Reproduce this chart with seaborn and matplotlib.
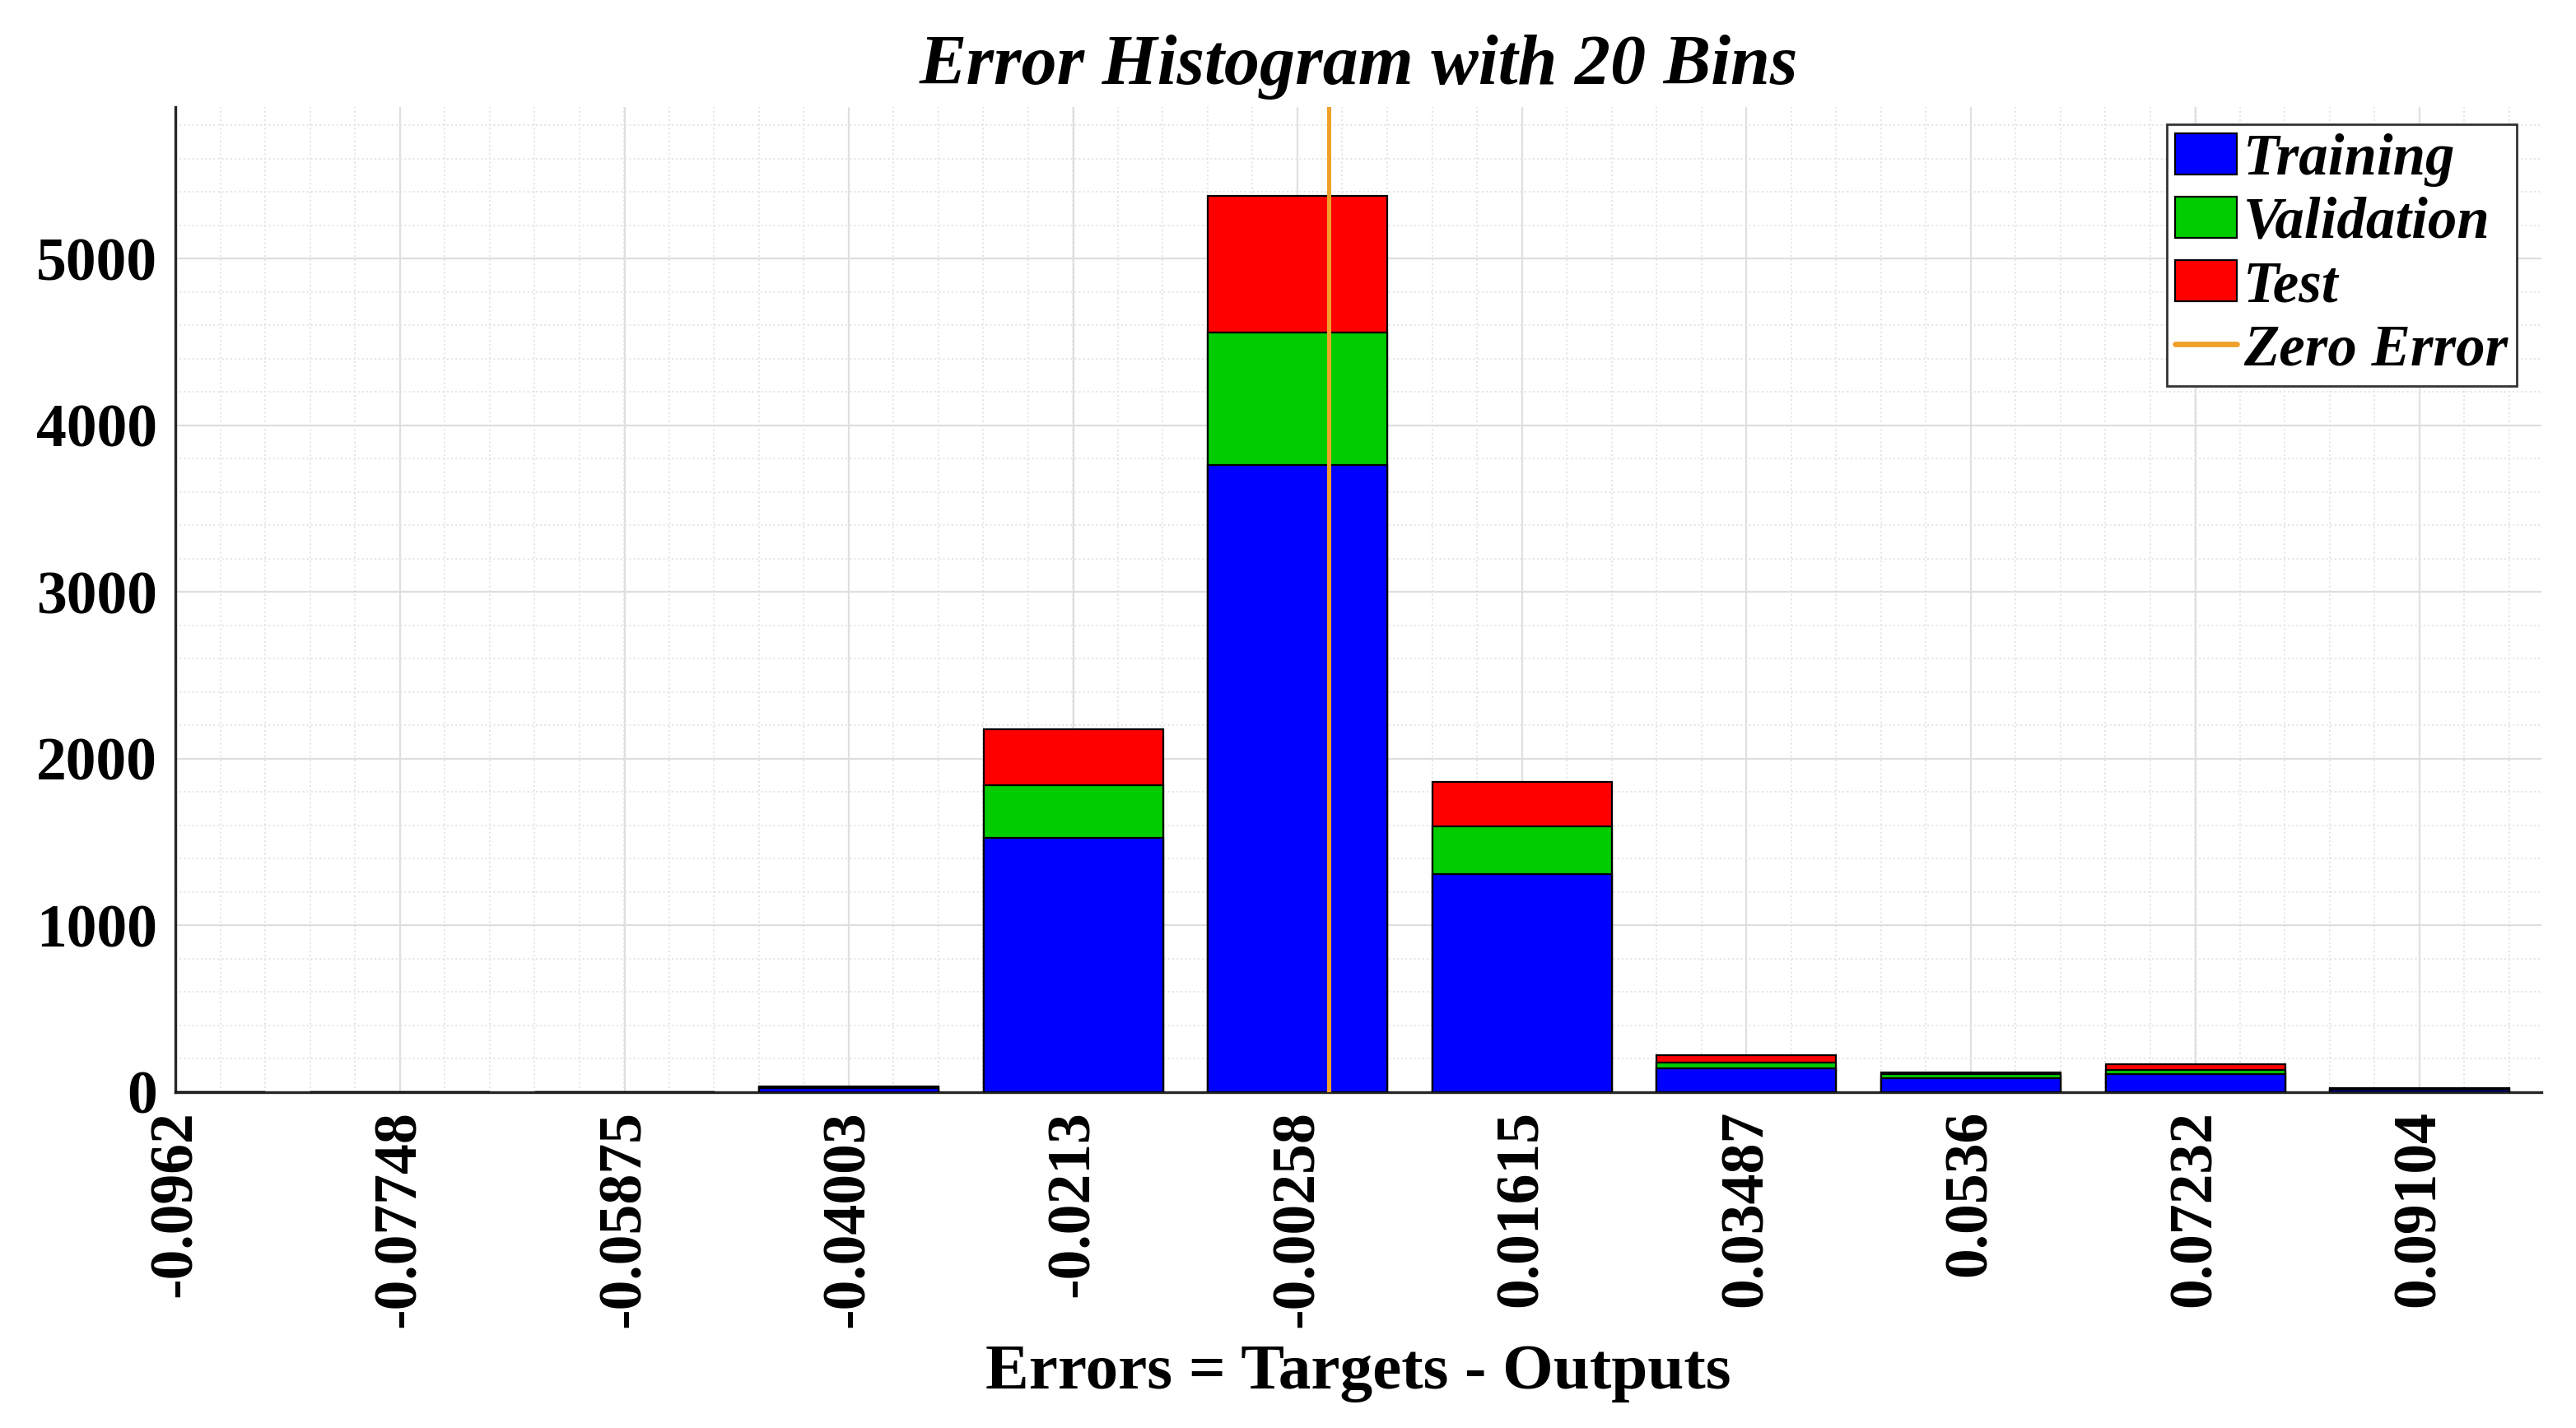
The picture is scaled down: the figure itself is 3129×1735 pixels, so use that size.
import numpy as np
import pandas as pd
import matplotlib
matplotlib.use("Agg")
import matplotlib.pyplot as plt
from matplotlib.ticker import MultipleLocator, AutoMinorLocator
import seaborn as sns

# bin centres and counts
centers = [-0.0962, -0.07748, -0.05875, -0.04003, -0.0213, -0.00258,
           0.01615, 0.03487, 0.0536, 0.07232, 0.09104]
tick_labels = ["-0.0962", "-0.07748", "-0.05875", "-0.04003", "-0.0213", "-0.00258",
               "0.01615", "0.03487", "0.0536", "0.07232", "0.09104"]
training = [0, 1, 2, 25, 1525, 3760, 1309, 143, 85, 106, 16]
validation = [0, 0, 0, 4, 315, 797, 285, 36, 21, 27, 4]
test = [0, 0, 0, 4, 335, 817, 266, 41, 12, 33, 4]

df = pd.DataFrame({"err": centers, "train": training, "val": validation, "test": test})
df["cum_val"] = df["train"] + df["val"]
df["cum_test"] = df["cum_val"] + df["test"]

sns.set_style("white")
plt.rcParams["font.family"] = ["Liberation Serif", "DejaVu Serif"]
plt.rcParams["font.weight"] = "bold"
plt.rcParams["text.color"] = "black"
plt.rcParams["axes.labelcolor"] = "black"
plt.rcParams["xtick.labelcolor"] = "black"
plt.rcParams["ytick.labelcolor"] = "black"

fig = plt.figure(figsize=(15.645, 8.675), dpi=200)
ax = fig.add_axes([0.0682, 0.2352, 0.9184, 0.690])

# stacked bars: draw totals first, then smaller cumulative sums on top
sns.barplot(data=df, x="err", y="cum_test", native_scale=True, color="#ff0000",
            edgecolor="black", linewidth=0.8, errorbar=None, saturation=1,
            label="Test", ax=ax, zorder=3)
sns.barplot(data=df, x="err", y="cum_val", native_scale=True, color="#00cc00",
            edgecolor="black", linewidth=0.8, errorbar=None, saturation=1,
            label="Validation", ax=ax, zorder=3)
sns.barplot(data=df, x="err", y="train", native_scale=True, color="#0000ff",
            edgecolor="black", linewidth=0.8, errorbar=None, saturation=1,
            label="Training", ax=ax, zorder=3)
ax.axvline(0, color="#f0a028", lw=1.8, label="Zero Error", zorder=4)

ax.set_xlim(-0.0962, 0.1012)
ax.set_ylim(0, 5910)
ax.set_xticks(centers)
ax.set_xticklabels(tick_labels, rotation=90, fontsize=26.5, fontweight="bold")
ax.yaxis.set_major_locator(MultipleLocator(1000))
ax.yaxis.set_minor_locator(MultipleLocator(200))
ax.xaxis.set_minor_locator(AutoMinorLocator(5))
for lab in ax.get_yticklabels():
    lab.set_fontsize(26.5)
    lab.set_fontweight("bold")

ax.tick_params(axis="both", which="major", direction="in", length=10, width=1,
               color="#262626", pad=8)
ax.tick_params(axis="both", which="minor", length=0)
ax.tick_params(axis="x", top=False)
ax.tick_params(axis="y", right=False)

ax.set_axisbelow(True)
ax.grid(which="major", color="#dedede", lw=0.8, ls="-")
ax.grid(which="minor", color="#e4e4e4", lw=0.7, ls=":")

for side in ["top", "right"]:
    ax.spines[side].set_visible(False)
for side in ["left", "bottom"]:
    ax.spines[side].set_color("#262626")
    ax.spines[side].set_linewidth(1.2)

ax.set_title("Error Histogram with 20 Bins", fontsize=31, fontweight="bold",
             fontstyle="italic", pad=10)
ax.set_xlabel("Errors = Targets - Outputs", fontsize=28.5, fontweight="bold", labelpad=7)
ax.set_ylabel("")

handles, labels = ax.get_legend_handles_labels()
order = ["Training", "Validation", "Test", "Zero Error"]
hmap = dict(zip(labels, handles))
leg = ax.legend([hmap[k] for k in order], order, loc="upper right",
                bbox_to_anchor=(0.9895, 0.982), frameon=True, fancybox=False,
                edgecolor="#333333", framealpha=1,
                prop={"size": 25.5, "weight": "bold", "style": "italic"},
                handlelength=1.05, handleheight=0.7, handletextpad=0.12,
                labelspacing=0.17, borderpad=0.15, borderaxespad=0)
leg.get_frame().set_linewidth(1.0)
leg.get_lines()[0].set_linewidth(2.4)

fig.savefig("out.png", dpi=200)
